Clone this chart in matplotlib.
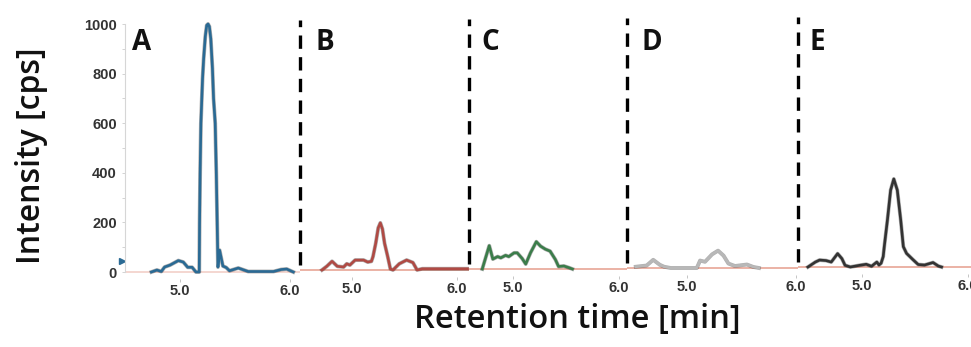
import matplotlib.pyplot as plt
import numpy as np

# Figure size in pixels
W, H = 971, 347

# Chromatogram traces (time [min], intensity [cps])
a_time = [4.74, 4.79, 4.83, 4.86, 4.91, 4.985, 5.03, 5.07, 5.11, 5.145, 5.175, 5.178, 5.183,
          5.19, 5.205, 5.215, 5.23, 5.243, 5.255, 5.267, 5.28, 5.295, 5.305, 5.32, 5.33, 5.338,
          5.345, 5.36, 5.39, 5.42, 5.45, 5.53, 5.62, 5.85, 5.92, 5.97, 6.03]
a_int = [0, 8, 2, 20, 28, 46, 40, 19, 19, 0, 0, 200, 400,
         600, 780, 860, 950, 995, 1000, 990, 940, 820, 700, 600, 400, 200,
         20, 88, 24, 18, 5, 16, 2, 2, 10, 12, 0]

b_time = [4.714, 4.76, 4.81, 4.86, 4.92, 4.95, 4.98, 5.03, 5.11, 5.15, 5.185, 5.20, 5.226,
          5.25, 5.27, 5.29, 5.31, 5.34, 5.365, 5.39, 5.45, 5.52, 5.58, 5.62, 5.67, 6.10]
b_int = [0, 15, 35, 15, 12, 25, 20, 40, 40, 32, 35, 54, 108,
         170, 190, 165, 108, 54, 5, 0, 25, 40, 30, 0, 5, 5]

c_time = [4.71, 4.745, 4.776, 4.81, 4.855, 4.885, 4.93, 4.96, 5.01, 5.04, 5.087, 5.12, 5.165,
          5.22, 5.26, 5.305, 5.35, 5.40, 5.43, 5.48, 5.53, 5.56]
c_int = [0, 50, 94, 40, 50, 45, 55, 50, 65, 65, 42, 20, 65,
         110, 92, 80, 72, 38, 10, 12, 5, 0]

d_time = [4.53, 4.63, 4.69, 4.75, 4.79, 4.85, 5.09, 5.12, 5.165, 5.23, 5.285, 5.335, 5.38,
          5.44, 5.55, 5.61, 5.66]
d_int = [5, 10, 33, 13, 5, 0, 0, 30, 25, 55, 70, 50, 18,
         8, 14, 4, 0]

e_time = [4.49, 4.56, 4.60, 4.66, 4.71, 4.77, 4.81, 4.84, 4.89, 4.98, 5.04, 5.09, 5.14, 5.16,
          5.18, 5.20, 5.21, 5.24, 5.27, 5.30, 5.333, 5.365, 5.39, 5.42, 5.48, 5.53, 5.59, 5.67,
          5.72, 5.75]
e_int = [0, 20, 28, 26, 20, 54, 34, 7, 0, 7, 11, 3, 20, 8,
         15, 42, 82, 190, 310, 355, 310, 190, 82, 55, 30, 10, 8, 18,
         4, 0]

labels = ['A', 'B', 'C', 'D', 'E']
times = [a_time, b_time, c_time, d_time, e_time]
intensities = [a_int, b_int, c_int, d_int, e_int]
colors = ['#2a6a94', '#b04a44', '#3b7d4a', '#b8b8b8', '#333333']

y_ticks = [0, 200, 400, 600, 800, 1000]
x_ticks = [5.0, 6.0]

# layout per panel in pixels: left, right, px of 5.0, px of 6.0, baseline
layout = [(125, 300, 180, 290, 272),
          (300, 469, 352, 457, 270),
          (469, 627, 513, 619, 269),
          (627, 798, 687, 796, 268),
          (798, 971, 862, 968, 267)]
letter_x = [132, 315, 481, 641, 809]

PX_PER_UNIT = 0.248
YLO, YHI = -30, 1040

fig = plt.figure(figsize=(W / 100, H / 100), dpi=100)

tick_font = dict(family='Liberation Sans', weight='bold', size=10.5, color='#333333')

for i in range(5):
    left, right, p5, p6, base = layout[i]
    ppm = p6 - p5
    xl = (5 + (left - p5) / ppm, 5 + (right - p5) / ppm)
    h_px = (YHI - YLO) * PX_PER_UNIT
    bottom_px = base - YLO * PX_PER_UNIT
    ax = fig.add_axes([left / W, (H - bottom_px) / H, (right - left) / W, h_px / H])
    ax.set_xlim(xl)
    ax.set_ylim(YLO, YHI)
    ax.patch.set_alpha(0)
    for s in ax.spines.values():
        s.set_visible(False)

    # baseline
    base_col = '#f2cfc8' if i == 0 else '#e7a596'
    ax.axhline(0, color=base_col, lw=1.2, zorder=1)

    # trace (darker outline underneath)
    ax.plot(times[i], intensities[i], color='#222222', lw=2.8, alpha=0.35, zorder=2,
            solid_joinstyle='round')
    ax.plot(times[i], intensities[i], color=colors[i], lw=1.9, zorder=3,
            solid_joinstyle='round')

    ax.set_xticks(x_ticks)
    ax.set_xticklabels(['%.1f' % t for t in x_ticks], fontdict=tick_font)
    ax.tick_params(axis='x', length=2, width=0.6, color='#bbbbbb', pad=1)

    if i == 0:
        ax.spines['left'].set_visible(True)
        ax.spines['left'].set_color('#d6d6d6')
        ax.spines['left'].set_bounds(0, 1000)
        ax.set_yticks(y_ticks)
        ax.set_yticklabels([str(v) for v in y_ticks], fontdict=tick_font)
        ax.set_yticks(np.arange(100, 1000, 200), minor=True)
        ax.tick_params(axis='y', which='both', length=2, width=0.6, color='#cccccc', pad=4)
        ax.plot(xl[0] - 0.03, 45, marker='>', color='#2a6a94', ms=5, clip_on=False)
    else:
        ax.set_yticks([])
        # dashed divider at the panel's left edge
        y0 = (20 - YLO) / (YHI - YLO)
        y1 = (1010 - YLO) / (YHI - YLO)
        ax.axvline(xl[0], ymin=y0, ymax=y1, color='black', lw=2.4,
                   linestyle=(0, (4, 2.5)), clip_on=False, zorder=4)

    fig.text(letter_x[i] / W, 1 - 42 / H, labels[i], fontsize=20, weight='bold',
             family='Open Sans', va='center', ha='left', color='#111111')

fig.text(31 / W, 1 - 156 / H, 'Intensity [cps]', rotation=90, fontsize=23,
         family='Open Sans', weight='semibold', ha='center', va='center', color='#111111')
fig.text(577 / W, 1 - 320 / H, 'Retention time [min]', fontsize=23.5,
         family='Open Sans', weight='semibold', ha='center', va='center', color='#111111')

fig.savefig('out.png', dpi=100)
